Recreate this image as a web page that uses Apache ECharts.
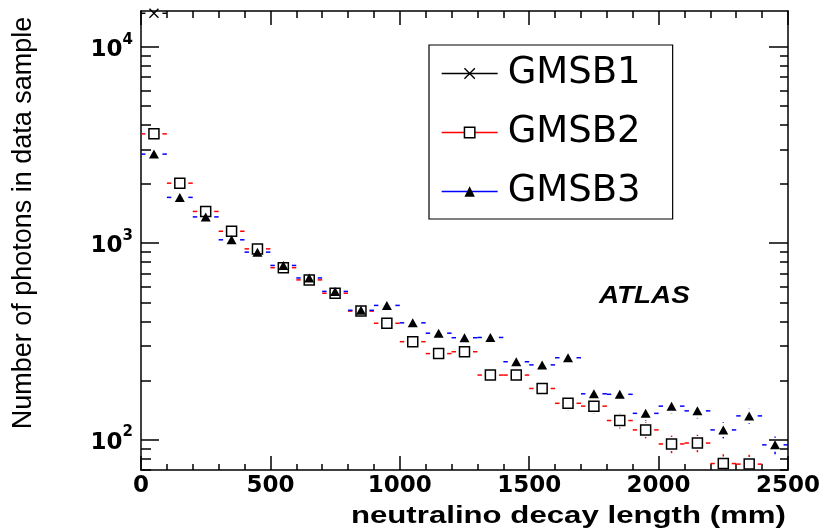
<!DOCTYPE html>
<html>
<head>
<meta charset="utf-8">
<script src="https://cdn.jsdelivr.net/npm/echarts@6/dist/echarts.min.js"></script>
<style>
  html, body { margin: 0; padding: 0; background: #fff; }
  #chart { width: 824px; height: 531px; }
</style>
</head>
<body>
<div id="chart"></div>
<script>
// Bin centres of the 100 mm wide decay-length bins
const binCenters = [50, 150, 250, 350, 450, 550, 650, 750, 850, 950, 1050, 1150, 1250,
                    1350, 1450, 1550, 1650, 1750, 1850, 1950, 2050, 2150, 2250, 2350, 2450];
const binHalfWidth = 50;

// Photon counts per bin (null = below the plotted range)
const gmsb1 = [14800, null, null, null, null, null, null, null, null, null, null, null, null,
               null, null, null, null, null, null, null, null, null, null, null, null];
const gmsb2 = [3600, 2020, 1450, 1150, 935, 750, 650, 556, 451, 391, 315, 274, 280,
               213, 213, 182, 153, 148, 125, 112, 95, 96, 75.5, 75, null];
const gmsb3 = [2840, 1710, 1360, 1040, 900, 770, 665, 568, 455, 482, 393, 348, 330,
               331, 249, 240, 261, 171, 170, 136, 148, 140, 112, 132, 94];

// Axis ranges and tick values
const xMin = 0, xMax = 2500, xStep = 500;
const yMin = 70, yMax = 15200;
const yMajorTicks = [100, 1000, 10000];
const yMinorTicks = [70, 80, 90, 200, 300, 400, 500, 600, 700, 800, 900,
                     2000, 3000, 4000, 5000, 6000, 7000, 8000, 9000];

const seriesNames = ['GMSB1', 'GMSB2', 'GMSB3'];
const barColors = ['#000000', '#ff0000', '#0000ff'];

const chart = echarts.init(document.getElementById('chart'), null, { renderer: 'canvas' });

function pairs(vals) {
  return binCenters.map((x, i) => [x, vals[i]]).filter(p => p[1] != null);
}

// Horizontal bin-width bars and vertical sqrt(N) bars, leaving a gap round the marker
function errorSeries(key, vals, color) {
  return {
    type: 'custom',
    id: key + '-bars',
    name: key + ' bars',
    coordinateSystem: 'cartesian2d',
    xAxisIndex: 0, yAxisIndex: 0,
    data: pairs(vals),
    encode: { x: 0, y: 1 },
    silent: true,
    z: 1,
    renderItem: function (params, api) {
      const x = api.value(0), y = api.value(1);
      const c = api.coord([x, y]);
      const cs = params.coordSys;
      const xl = Math.max(api.coord([x - binHalfWidth, y])[0], cs.x);
      const xr = Math.min(api.coord([x + binHalfWidth, y])[0], cs.x + cs.width);
      const err = Math.sqrt(y);
      const yt = Math.max(api.coord([x, y + err])[1], cs.y);
      const yb = Math.min(api.coord([x, Math.max(y - err, yMin)])[1], cs.y + cs.height);
      const st = { stroke: color, lineWidth: 1.5 };
      const hg = 8.5, vg = 7;
      const kids = [];
      if (c[0] - hg > xl) kids.push({ type: 'line', shape: { x1: xl, y1: c[1], x2: c[0] - hg, y2: c[1] }, style: st });
      if (xr > c[0] + hg) kids.push({ type: 'line', shape: { x1: c[0] + hg, y1: c[1], x2: xr, y2: c[1] }, style: st });
      if (c[1] - vg > yt) kids.push({ type: 'line', shape: { x1: c[0], y1: yt, x2: c[0], y2: c[1] - vg }, style: st });
      if (yb > c[1] + vg) kids.push({ type: 'line', shape: { x1: c[0], y1: c[1] + vg, x2: c[0], y2: yb }, style: st });
      return { type: 'group', children: kids };
    }
  };
}

function markerSeries(name, vals, symbol, size, itemStyle) {
  return {
    type: 'line',
    name: name,
    xAxisIndex: 0, yAxisIndex: 0,
    data: pairs(vals),
    symbol: symbol,
    symbolSize: size,
    showSymbol: true,
    showAllSymbol: true,
    lineStyle: { width: 0, opacity: 0 },
    itemStyle: itemStyle,
    emphasis: { disabled: true },
    silent: true,
    z: 3
  };
}

const crossPath = 'path://M0 0L10 10M10 0L0 10';
const crossStyle = { color: 'rgba(0,0,0,0)', borderColor: '#000', borderWidth: 1.4, opacity: 1 };
const squareStyle = { color: '#fff', borderColor: '#000', borderWidth: 1.5, opacity: 1 };
const triStyle = { color: '#000', borderColor: '#000', borderWidth: 0, opacity: 1 };

const tickFont = { fontFamily: 'DejaVu Sans', fontWeight: 'bold', color: '#000' };
const L = Math.log10;

function tickAxis(position, values, len, showLine) {
  return {
    type: 'value',
    position: position,
    min: L(yMin), max: L(yMax),
    axisLine: { show: showLine, onZero: false, lineStyle: { color: '#000', width: 1.5 } },
    axisTick: { show: true, inside: true, length: len, customValues: values.map(L),
                lineStyle: { color: '#000', width: 1.5 } },
    axisLabel: { show: false },
    splitLine: { show: false }
  };
}

const option = {
  animation: false,
  backgroundColor: '#fff',
  grid: { left: 141, right: 36, top: 11, bottom: 61 },
  xAxis: [
    {
      type: 'value', position: 'bottom', min: xMin, max: xMax, interval: xStep,
      axisLine: { onZero: false, lineStyle: { color: '#000', width: 1.5 } },
      axisTick: { inside: true, length: 14, lineStyle: { color: '#000', width: 1.5 } },
      minorTick: { show: true, splitNumber: 5, length: 6, lineStyle: { color: '#000', width: 1.5 } },
      axisLabel: Object.assign({ fontSize: 23, margin: 5, formatter: v => String(v) }, tickFont),
      splitLine: { show: false }
    },
    {
      type: 'value', position: 'top', min: xMin, max: xMax, interval: xStep,
      axisLine: { onZero: false, lineStyle: { color: '#000', width: 1.5 } },
      axisTick: { inside: true, length: 14, lineStyle: { color: '#000', width: 1.5 } },
      minorTick: { show: true, splitNumber: 5, length: 7, lineStyle: { color: '#000', width: 1.5 } },
      axisLabel: { show: false },
      splitLine: { show: false }
    }
  ],
  yAxis: [
    {
      type: 'log', position: 'left', min: yMin, max: yMax, logBase: 10,
      axisLine: { onZero: false, lineStyle: { color: '#000', width: 1.5 } },
      axisTick: { show: false },
      axisLabel: {
        margin: 8,
        formatter: function (v) {
          const p = Math.log10(v);
          if (Math.abs(p - Math.round(p)) > 1e-6) return '';
          return '{b|10}{s|' + Math.round(p) + '}';
        },
        rich: {
          b: Object.assign({ fontSize: 23, verticalAlign: 'bottom' }, tickFont),
          s: Object.assign({ fontSize: 15, verticalAlign: 'bottom', padding: [0, 0, 14, 0] }, tickFont)
        }
      },
      splitLine: { show: false }
    },
    tickAxis('left', yMajorTicks, 18, false),
    tickAxis('left', yMinorTicks, 10, false),
    tickAxis('right', yMajorTicks, 19, true),
    tickAxis('right', yMinorTicks, 8, false)
  ],
  legend: {
    orient: 'vertical',
    left: 429, top: 45,
    padding: [10, 32, 9, 12],
    itemGap: 22,
    itemWidth: 56,
    itemHeight: 13,
    backgroundColor: '#fff',
    borderColor: '#000',
    borderWidth: 1.2,
    borderRadius: 0,
    selectedMode: false,
    textStyle: { fontFamily: 'DejaVu Sans', fontSize: 37, color: '#000', padding: [0, 0, 0, 5] },
    data: [
      { name: seriesNames[0], lineStyle: { color: barColors[0], width: 1.3, opacity: 1, type: 'solid' }, itemStyle: crossStyle },
      { name: seriesNames[1], lineStyle: { color: barColors[1], width: 1.3, opacity: 1, type: 'solid' }, itemStyle: squareStyle },
      { name: seriesNames[2], lineStyle: { color: barColors[2], width: 1.3, opacity: 1, type: 'solid' }, itemStyle: triStyle }
    ]
  },
  graphic: [
    {
      type: 'text', x: 24, y: 223, rotation: Math.PI / 2, z: 10,
      style: { text: 'Number of photons in data sample', fontFamily: 'Liberation Sans',
               fontSize: 27, fill: '#000', align: 'center', verticalAlign: 'middle' }
    },
    {
      type: 'text', x: 786, y: 516, scaleX: 1.3, z: 10,
      style: { text: 'neutralino decay length (mm)', fontFamily: 'Liberation Sans', fontWeight: 'bold',
               fontSize: 24, fill: '#000', align: 'right', verticalAlign: 'middle' }
    },
    {
      type: 'text', x: 599, y: 296, scaleX: 1.16, z: 10,
      style: { text: 'ATLAS', fontFamily: 'Liberation Sans', fontWeight: 'bold', fontStyle: 'italic',
               fontSize: 24, fill: '#000', align: 'left', verticalAlign: 'middle' }
    }
  ],
  series: [
    errorSeries('GMSB1', gmsb1, barColors[0]),
    errorSeries('GMSB2', gmsb2, barColors[1]),
    errorSeries('GMSB3', gmsb3, barColors[2]),
    markerSeries(seriesNames[0], gmsb1, crossPath, 9, crossStyle),
    markerSeries(seriesNames[1], gmsb2, 'rect', 10, squareStyle),
    markerSeries(seriesNames[2], gmsb3, 'triangle', [10, 9], triStyle)
  ]
};

chart.setOption(option);
</script>
</body>
</html>
